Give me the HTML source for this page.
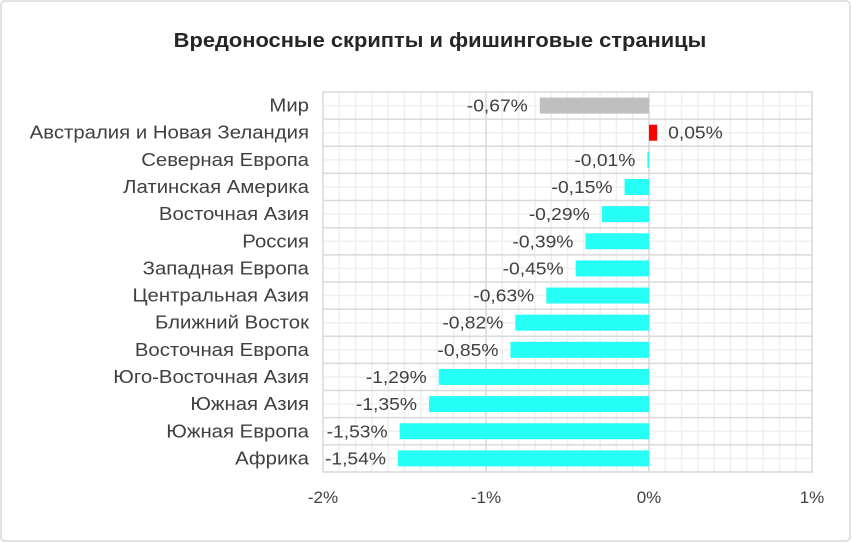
<!DOCTYPE html>
<html><head><meta charset="utf-8"><style>
html,body{margin:0;padding:0;background:#fff}
svg{display:block}
text{font-family:"Liberation Sans","DejaVu Sans",sans-serif}
</style></head><body>
<svg width="852" height="543" xmlns="http://www.w3.org/2000/svg">
<rect x="1" y="1" width="849" height="540" rx="4" fill="#fff" stroke="#d9d9d9" stroke-width="1.5"/>
<text id="title" x="440" y="47" text-anchor="middle" font-size="20" font-weight="bold" fill="#262626">Вредоносные скрипты и фишинговые страницы</text>
<g id="grid"></g>
<g id="bars"></g>
<g fill="#404040" font-size="17">
<text x="486" y="503" text-anchor="middle">-1%</text>
<text x="323" y="503" text-anchor="middle">-2%</text>
<text x="649" y="503" text-anchor="middle">0%</text>
<text x="812" y="503" text-anchor="middle">1%</text>
</g>
<script>
const ns="http://www.w3.org/2000/svg";
const g=document.getElementById('grid'),b=document.getElementById('bars');
const L=323,Z=649,S=163,T=92,H=27.14,R=813,B=472;
function el(p,tag,a,t){const e=document.createElementNS(ns,tag);for(const k in a)e.setAttribute(k,a[k]);if(t)e.textContent=t;p.appendChild(e);return e;}
function stretch(e,f){const w=e.getComputedTextLength();e.setAttribute('textLength',w*f);e.setAttribute('lengthAdjust','spacingAndGlyphs');}
stretch(document.getElementById('title'),532/(462*20/19));
for(let i=0;i<=30;i++){const x=L+i*S/10;if(i%10)el(g,'line',{x1:x,x2:x,y1:T,y2:B,stroke:'#efefef','stroke-width':1.5});}
for(let i=0;i<14;i++){const y=T+(i+0.5)*H;el(g,'line',{x1:L,x2:R,y1:y,y2:y,stroke:'#efefef','stroke-width':1.5});}
for(let i=0;i<=14;i++){const y=T+i*H;el(g,'line',{x1:L,x2:R,y1:y,y2:y,stroke:'#d9d9d9','stroke-width':1.5});}
for(let i=0;i<=3;i++){const x=L+i*S;el(g,'line',{x1:x,x2:x,y1:T,y2:B,stroke:'#d9d9d9','stroke-width':1.5});}
const d=[["Мир",-0.67],["Австралия и Новая Зеландия",0.05],["Северная Европа",-0.01],["Латинская Америка",-0.15],["Восточная Азия",-0.29],["Россия",-0.39],["Западная Европа",-0.45],["Центральная Азия",-0.63],["Ближний Восток",-0.82],["Восточная Европа",-0.85],["Юго-Восточная Азия",-1.29],["Южная Азия",-1.35],["Южная Европа",-1.53],["Африка",-1.54]];
d.forEach((r,i)=>{const c=T+(i+0.5)*H;const v=r[1];const x1=Z+Math.min(0,v)*S,w=Math.abs(v)*S;
const col=i==0?'#bfbfbf':(v>0?'#ff0000':'#26fff5');
el(b,'rect',{x:x1,y:c-8,width:w,height:16,fill:col});
const t=el(b,'text',{x:309,y:c+6,'text-anchor':'end','font-size':18,fill:'#404040'},r[0]);
stretch(t,1.13);
const lab=(v<0?'-':'')+Math.abs(v).toFixed(2).replace('.',',')+'%';
let u;
if(v<0)u=el(b,'text',{x:x1-12,y:c+6,'text-anchor':'end','font-size':17.5,fill:'#404040'},lab);
else u=el(b,'text',{x:Z+w+11,y:c+6,'font-size':17.5,fill:'#404040'},lab);
stretch(u,1.1);
});
</script>
</svg>
</body></html>
